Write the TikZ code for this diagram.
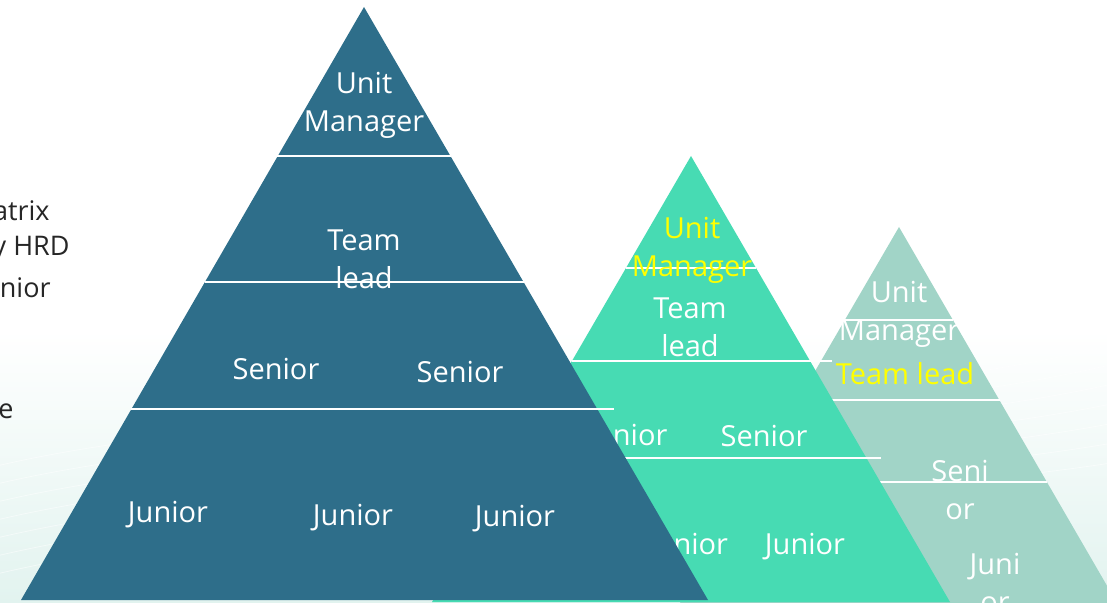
\documentclass[tikz,border=0pt]{standalone}
\usepackage{xcolor}
\usepackage{fontspec}
\setmainfont{Open Sans}
\usepackage{tikz}
\definecolor{deepsea}{RGB}{46, 110, 138}
\definecolor{mint}{RGB}{71, 219, 179}
\definecolor{sage}{RGB}{161, 212, 199}
\definecolor{mist}{RGB}{226, 243, 239}
\definecolor{signal}{RGB}{255, 255, 0}

\tikzset{
    rank/.style={text=white, font=\fontsize{14.5}{19}\selectfont, align=center, inner sep=0pt},
    note/.style={text=black!85, font=\fontsize{13.5}{19}\selectfont, anchor=east, inner sep=0pt},
    tier/.style={white, line width=0.6pt}
}

\begin{document}
\begin{tikzpicture}[x=0.5pt, y=-0.5pt]
    \useasboundingbox (0,0) rectangle (1107,603);
    \clip (0,0) rectangle (1107,603);

    % Backdrop
    \shade[top color=white, bottom color=mist] (0,330) rectangle (1107,603);
    \foreach \k in {0,...,6}
        \draw[white, opacity=0.5] (-20,{470+18*\k}) .. controls (300,{390+18*\k}) and (800,{430+14*\k}) .. (1130,{340+20*\k});

    % Cut-off slide text
    \node[note] (matrix) at (50,211) {atrix};
    \node[note] (hrd) at (70,249) {y HRD};
    \node[note] (senior) at (51,288) {nior};
    \node[note] (tail) at (14,411) {e};

    % Small pyramid
    \fill[sage] (899,227) -- (1117,603) -- (680,603) -- cycle;
    \draw[tier] (845,320) -- (953,320);
    \draw[tier] (830,400) -- (1000,400);
    \draw[tier] (875,482) -- (1047,482);
    \node[rank] (smu) at (899,314) {Unit\\Manager};
    \node[rank, text=signal] (smt) at (905,374) {Team lead};
    \node[rank] (sms) at (960,490) {Seni\\or};
    \node[rank] (smj) at (995,583) {Juni\\or};

    % Middle pyramid
    \fill[mint] (691,156) -- (950,602) -- (432,602) -- cycle;
    \draw[tier] (626,268) -- (756,268);
    \draw[tier] (572,361) -- (832,361);
    \draw[tier] (600,458) -- (881,458);
    \node[rank, text=signal] (mdu) at (692,250) {Unit\\Manager};
    \node[rank] (mdt) at (690,327) {Team\\lead};
    \node[rank] (mds1) at (624,435) {Senior};
    \node[rank] (mds2) at (764,436) {Senior};
    \node[rank] (mdj1) at (688,547) {Junior};
    \node[rank] (mdj2) at (805,547) {Junior};

    % Large pyramid
    \fill[deepsea] (364,7) -- (708,600) -- (21,600) -- cycle;
    \draw[tier] (277,156) -- (451,156);
    \draw[tier] (205,282) -- (524,282);
    \draw[tier] (131,409) -- (614,409);
    \node[rank] (lgu) at (364,105) {Unit\\Manager};
    \node[rank] (lgt) at (364,259) {Team\\lead};
    \node[rank] (lgs1) at (276,369) {Senior};
    \node[rank] (lgs2) at (460,372) {Senior};
    \node[rank] (lgj1) at (168,515) {Junior};
    \node[rank] (lgj2) at (353,518) {Junior};
    \node[rank] (lgj3) at (515,519) {Junior};
\end{tikzpicture}
\end{document}
